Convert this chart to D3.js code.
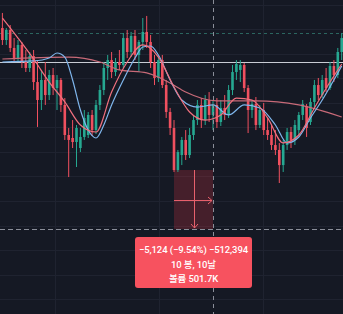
<!DOCTYPE html>
<html>
<head>
<meta charset="utf-8">
<script src="https://cdn.jsdelivr.net/npm/d3@7"></script>
<style>
html, body { margin: 0; padding: 0; background: #151924; }
svg { display: block; }
</style>
</head>
<body>
<svg id="chart" width="343" height="314"></svg>
<script>
var opens = [66040,65000,65870,64310,63440,64570,63090,62570,63610,61350,59790,61530,60220,61960,60830,61530,59360,56750,56490,56140,
  55620,56580,56750,58490,57180,59360,60660,62570,63260,62220,63090,62830,65170,63960,65350,63700,64830,65700,64830,63090,
  61700,63260,61090,58750,57360,53710,55010,56320,55010,56750,58050,59360,58050,59790,58490,59360,57880,59100,58490,60660,
  62220,62400,62830,60830,58920,59440,57620,58920,57180,56750,55880,55450,54140,55880,57010,56320,57180,58490,59270,57880,
  59620,61090,60220,61700,60830,62740,61960,63960];
var highs = [67350,66040,66300,65170,65000,64830,64130,63960,64130,63260,62400,63090,62400,62570,61960,61700,59960,57360,58050,57620,
  57360,58920,58750,58920,59790,61090,63090,63700,63960,63440,64130,65610,65870,65700,65870,65000,66910,67090,65440,63700,
  63610,63700,61530,59100,58050,55450,56580,57180,57360,58490,59790,59960,60220,60480,59790,59960,59790,60220,61090,62830,
  63260,63260,63000,61090,59790,60050,59360,59530,58230,57620,57180,56060,56320,57360,57450,58050,58750,59790,59440,59960,
  61530,61700,61960,62570,63090,63260,64310,65610];
var lows = [64570,64570,63960,63090,63090,62570,62220,62220,60660,57450,58920,59360,59790,60220,58920,58750,56320,53100,55620,53970,
  55270,56320,56490,56660,56840,58920,60220,61530,61700,61870,62400,62570,63440,63520,63260,62220,64130,64310,62570,61090,
  61350,60830,58230,56750,53540,53540,54140,54580,54750,56320,57620,57360,57620,57880,57180,57360,57530,58050,58230,60220,
  61530,61350,60480,56920,58230,57180,57360,56750,56320,55450,55010,52580,53540,55450,55620,55880,56750,58050,56580,57620,
  59100,59790,59960,60480,60660,61350,61700,63260];
var closes = [65000,65870,64310,63440,64570,63090,62570,63610,61350,59790,61530,60220,61960,60830,61530,59360,56750,56320,56140,57360,
  56580,58230,58490,57180,59360,60660,62570,63260,62220,63090,62830,65170,63960,65350,63700,64830,65700,64830,63090,61700,
  63260,61090,58750,57360,53710,55270,56320,55010,56750,58050,59360,58050,59790,58490,59360,57880,59100,58490,60660,62220,
  62920,62830,60830,58920,59440,57620,58920,57180,56750,55880,55450,54140,55880,57010,56320,57620,58490,59440,57360,59620,
  61090,60220,61530,60830,62740,61960,63960,65170];

var fastBars = [0,4,8,12,16,20,24,28,32,36,40,44,48,52,56,60,64,68,72,76,80,84,87];
var fastValues = [66910,65170,63350,61350,59620,57620,57010,60480,63090,64570,63520,60920,58750,58050,58490,59960,59790,58230,56060,56750,
  59100,61350,62920];
var midBars = [0,8,12,14,16,18,20,22,24,26,28,31,34,36,38,40,43,46,50,54,58,62,66,70,73,76,79,82,85,87];
var midValues = [63090,63180,63440,63870,63520,61530,58920,57180,56490,57620,59360,61530,63440,64390,64480,63700,61530,59790,59180,59360,
  58490,59360,59100,57620,56060,56580,58230,59790,61530,62740];
var slowBars = [0,17,25,30,37,43,47,55,65,76,87];
var slowValues = [63350,63520,63090,62400,62140,61270,60480,59710,59710,59360,58310];

var gridPrices = [42500,44630,46760,48890,51020,53150,55280,57410,59540,61670,63800,65930,68060];
var gridBars = [13.5,40.1,66.8];
var priceLine = 63090;
var alertLine = 65610;

var measureFrom = 44, measureTo = 54;
var measureEnd = 48586;
var measureLines = ["\u22125,124 (\u22129.54%) \u2212512,394", "10 봉, 10날", "볼륨 501.7K"];

var width = 343, height = 314;
var upColor = "#26a891", downColor = "#f0505f";

var svg = d3.select("#chart");
var x = d3.scaleLinear().domain([0, 87]).range([2.4, 341.7]);
var y = d3.scaleLinear().domain([41205, 68475]).range([height, 0]);

svg.append("rect")
  .attr("width", width)
  .attr("height", height)
  .attr("fill", "#151924");

var grid = svg.append("g").attr("shape-rendering", "crispEdges");
grid.selectAll(".hgrid").data(gridPrices).enter().append("line")
  .attr("x1", 0).attr("x2", width)
  .attr("y1", d => Math.round(y(d)) + 0.5)
  .attr("y2", d => Math.round(y(d)) + 0.5)
  .attr("stroke", "#1f2330");
grid.selectAll(".vgrid").data(gridBars).enter().append("line")
  .attr("y1", 0).attr("y2", height)
  .attr("x1", d => Math.round(x(d)) + 0.5)
  .attr("x2", d => Math.round(x(d)) + 0.5)
  .attr("stroke", "#1f2330");

svg.append("line")
  .attr("x1", 0).attr("x2", width)
  .attr("y1", Math.round(y(alertLine)) + 0.5)
  .attr("y2", Math.round(y(alertLine)) + 0.5)
  .attr("stroke", "#2b6660")
  .attr("stroke-dasharray", "3,3");

svg.append("line")
  .attr("x1", 0).attr("x2", width)
  .attr("y1", Math.round(y(priceLine)) + 0.5)
  .attr("y2", Math.round(y(priceLine)) + 0.5)
  .attr("stroke", "#c9ccd4");

// measure box
var mx0 = x(measureFrom), mx1 = x(measureTo);
var my0 = y(closes[measureFrom]), my1 = y(measureEnd);
svg.append("rect")
  .attr("x", mx0).attr("y", my0)
  .attr("width", mx1 - mx0).attr("height", my1 - my0)
  .attr("fill", "rgba(242,54,69,0.22)");

var candles = svg.selectAll(".candle").data(d3.range(opens.length)).enter().append("g");
candles.append("line")
  .attr("x1", i => x(i)).attr("x2", i => x(i))
  .attr("y1", i => y(highs[i])).attr("y2", i => y(lows[i]))
  .attr("stroke", i => closes[i] >= opens[i] ? upColor : downColor)
  .attr("stroke-width", 1);
candles.append("rect")
  .attr("x", i => x(i) - 1.3)
  .attr("width", 2.6)
  .attr("y", i => y(Math.max(opens[i], closes[i])))
  .attr("height", i => Math.max(1, Math.abs(y(opens[i]) - y(closes[i]))))
  .attr("fill", i => closes[i] >= opens[i] ? upColor : downColor);

var line = d3.line()
  .x(d => x(d[0]))
  .y(d => y(d[1]))
  .curve(d3.curveMonotoneX);

svg.append("path")
  .attr("d", line(d3.zip(slowBars, slowValues)))
  .attr("fill", "none")
  .attr("stroke", "#c86a78")
  .attr("stroke-width", 1.2);
svg.append("path")
  .attr("d", line(d3.zip(midBars, midValues)))
  .attr("fill", "none")
  .attr("stroke", "#7fb6ec")
  .attr("stroke-width", 1.2);
svg.append("path")
  .attr("d", line(d3.zip(fastBars, fastValues)))
  .attr("fill", "none")
  .attr("stroke", "#f0707e")
  .attr("stroke-width", 1.2);

// arrows inside measure box
var midX = Math.round((mx0 + mx1) / 2) + 0.5, midY = Math.round((my0 + my1) / 2) + 0.5;
var arrowColor = "#e8606c";
svg.append("line")
  .attr("x1", mx0).attr("x2", mx1 - 1)
  .attr("y1", midY).attr("y2", midY)
  .attr("stroke", arrowColor);
svg.append("path")
  .attr("d", "M" + (mx1 - 5) + "," + (midY - 3.5) + "L" + (mx1 - 1) + "," + midY + "L" + (mx1 - 5) + "," + (midY + 3.5))
  .attr("fill", "none")
  .attr("stroke", arrowColor);
svg.append("line")
  .attr("x1", midX).attr("x2", midX)
  .attr("y1", my0).attr("y2", my1 - 1)
  .attr("stroke", arrowColor);
svg.append("path")
  .attr("d", "M" + (midX - 3.5) + "," + (my1 - 5) + "L" + midX + "," + (my1 - 1) + "L" + (midX + 3.5) + "," + (my1 - 5))
  .attr("fill", "none")
  .attr("stroke", arrowColor);

// crosshair
svg.append("line")
  .attr("x1", Math.round(mx1) + 0.5).attr("x2", Math.round(mx1) + 0.5)
  .attr("y1", 0).attr("y2", height)
  .attr("stroke", "#8a8e99")
  .attr("stroke-dasharray", "4,4");
svg.append("line")
  .attr("x1", 0).attr("x2", width)
  .attr("y1", Math.round(my1) + 0.5).attr("y2", Math.round(my1) + 0.5)
  .attr("stroke", "#8a8e99")
  .attr("stroke-dasharray", "5,3");

// label
var boxW = 117, boxH = 51;
var boxX = (mx0 + mx1) / 2 - boxW / 2, boxY = my1 + 8;
svg.append("rect")
  .attr("x", boxX).attr("y", boxY)
  .attr("width", boxW).attr("height", boxH)
  .attr("rx", 3).attr("ry", 3)
  .attr("fill", "#f7525f");
svg.selectAll(".mlabel").data(measureLines).enter().append("text")
  .text(d => d)
  .attr("x", (mx0 + mx1) / 2)
  .attr("y", (d, i) => boxY + 16 + i * 14.5)
  .attr("text-anchor", "middle")
  .style("font-family", "Roboto, 'Noto Sans CJK KR', sans-serif")
  .style("font-size", "9.5px")
  .style("letter-spacing", "-0.1px")
  .style("font-weight", "500")
  .style("fill", "#ffffff");
</script>
</body>
</html>
